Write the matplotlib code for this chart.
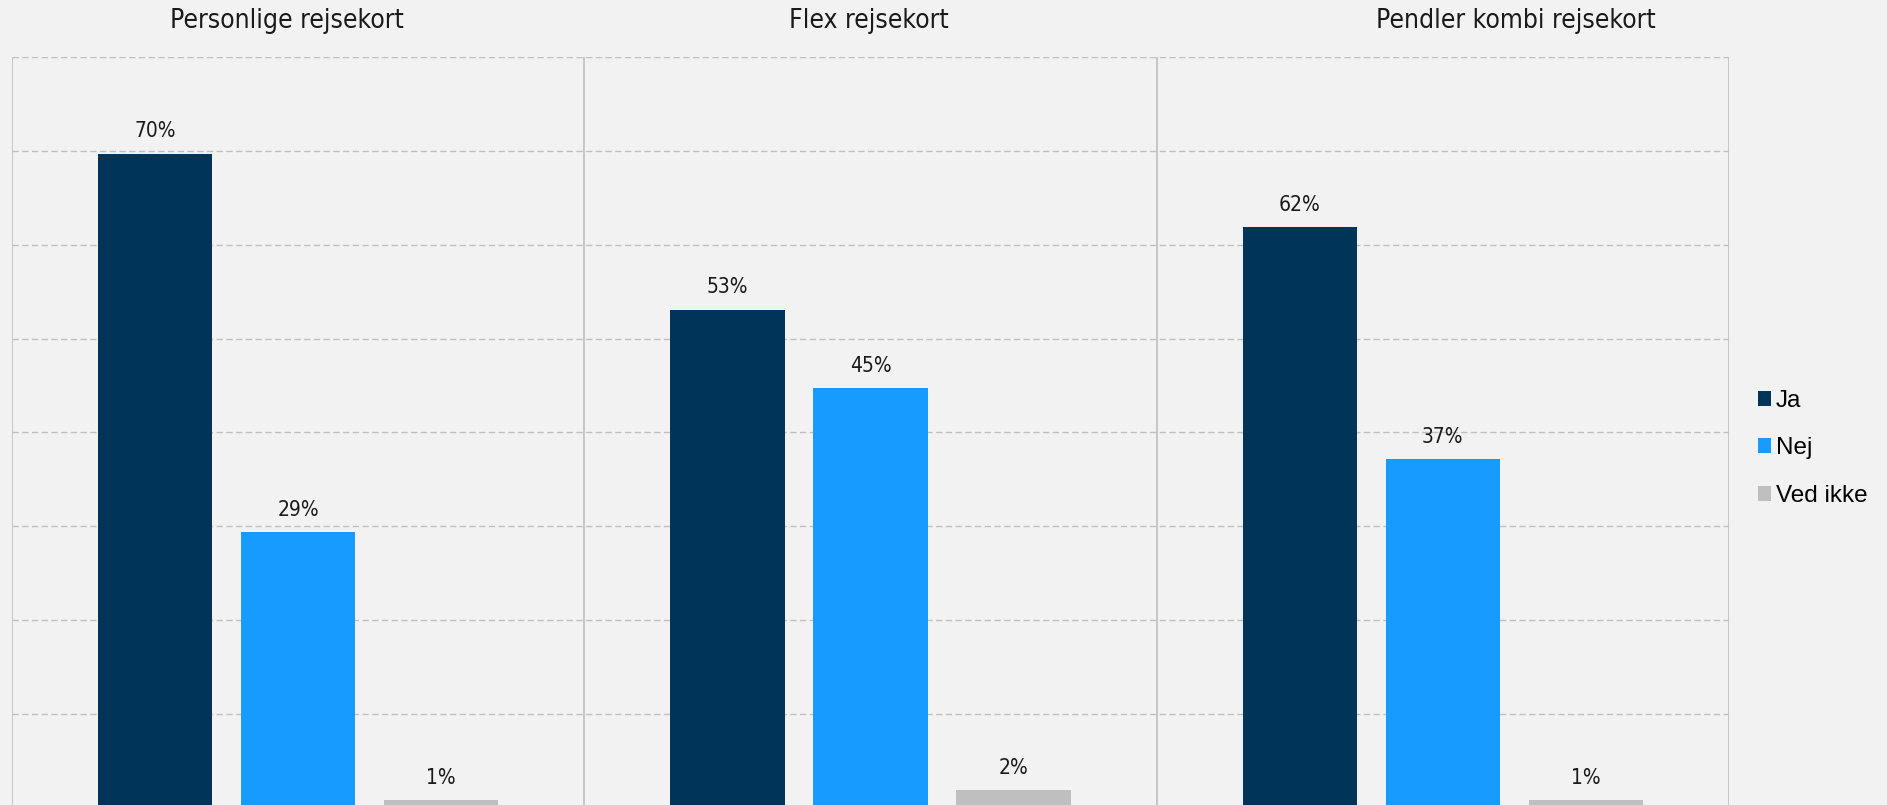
import matplotlib.pyplot as plt
import numpy as np

# data (percent)
kort = ['Personlige rejsekort', 'Flex rejsekort', 'Pendler kombi rejsekort']
svar = ['Ja', 'Nej', 'Ved ikke']
ja = [69.7, 53.1, 61.9]
nej = [29.4, 44.7, 37.2]
ved_ikke = [0.8, 1.9, 0.8]

farver = ['#00355A', '#189BFF', '#BFBFBF']
bg = '#F2F2F2'
grid_c = '#BFBFBF'

fig = plt.figure(figsize=(18.87, 8.05), dpi=100, facecolor=bg)
# bottom of the axes sits a bit below the picture, so the bars get cut
ax = fig.add_axes([12 / 1887, -3 / 805, (1729 - 12) / 1887, 751 / 805])
ax.set_facecolor(bg)

# horizontal dashed grid + panel separators
for y in range(10, 90, 10):
    ax.axhline(y, color=grid_c, lw=1.0, linestyle=(0, (4.5, 2.5)), zorder=0)
for x in range(len(kort) + 1):
    ax.axvline(x, color=grid_c, lw=1.2, zorder=0)

serier = [ja, nej, ved_ikke]
offsets = [0.25, 0.5, 0.75]
for navn, vals, off, c in zip(svar, serier, offsets, farver):
    xs = np.arange(len(kort)) + off
    ax.bar(xs, vals, width=0.2, color=c, label=navn, zorder=2)
    for x, v in zip(xs, vals):
        ax.annotate(f'{v:.0f}%', (x, v), xytext=(0, 16), textcoords='offset points',
                    ha='center', va='center', fontsize=15, fontstretch='condensed',
                    color='#1a1a1a')

# panel titles are not quite centred over the panels in the original
titel_x = [0.481, 1.497, 2.628]
for tx, t in zip(titel_x, kort):
    ax.text(tx, 83.85, t, ha='center', va='center', fontsize=19,
            fontstretch='condensed', color='#1a1a1a', clip_on=False)

ax.set_xlim(0, 3)
ax.set_ylim(0, 80)
ax.set_xticks([])
ax.set_yticks([])
for s in ax.spines.values():
    s.set_visible(False)

fig.legend(loc='center left', bbox_to_anchor=(1736 / 1887, 0.443), frameon=False,
           prop={'family': 'Liberation Sans', 'size': 17.5},
           handlelength=0.55, handleheight=0.55, handletextpad=0.2, labelspacing=1.05)

fig.savefig('out.png', dpi=100, facecolor=bg)
